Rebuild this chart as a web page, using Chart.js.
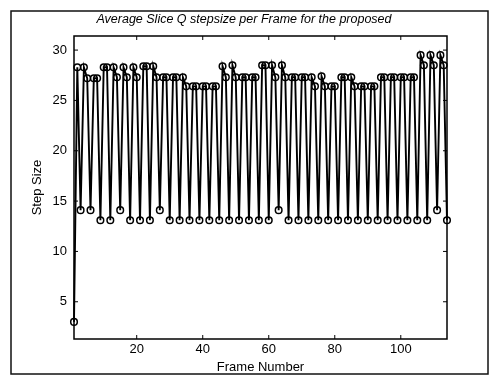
<!DOCTYPE html>
<html>
<head>
<meta charset="utf-8">
<script src="https://cdn.jsdelivr.net/npm/chart.js@4.4.1/dist/chart.umd.min.js"></script>
<style>
	body { margin: 0; background: #fff; }
	#graph { display: block; }
</style>
</head>
<body>
<canvas id="graph" width="491" height="381"></canvas>
<script>
const frames = [
	1, 2, 3, 4, 5, 6, 7, 8, 9, 10, 11, 12, 13, 14, 15, 16, 17, 18, 19, 20,
	21, 22, 23, 24, 25, 26, 27, 28, 29, 30, 31, 32, 33, 34, 35, 36, 37, 38, 39, 40,
	41, 42, 43, 44, 45, 46, 47, 48, 49, 50, 51, 52, 53, 54, 55, 56, 57, 58, 59, 60,
	61, 62, 63, 64, 65, 66, 67, 68, 69, 70, 71, 72, 73, 74, 75, 76, 77, 78, 79, 80,
	81, 82, 83, 84, 85, 86, 87, 88, 89, 90, 91, 92, 93, 94, 95, 96, 97, 98, 99, 100,
	101, 102, 103, 104, 105, 106, 107, 108, 109, 110, 111, 112, 113, 114,
];

const stepSize = [
	3, 28.3, 14.1, 28.3, 27.2, 14.1, 27.2, 27.2, 13.1, 28.3,
	28.3, 13.1, 28.3, 27.3, 14.1, 28.3, 27.3, 13.1, 28.3, 27.3,
	13.1, 28.4, 28.4, 13.1, 28.4, 27.3, 14.1, 27.3, 27.3, 13.1,
	27.3, 27.3, 13.1, 27.3, 26.4, 13.1, 26.4, 26.4, 13.1, 26.4,
	26.4, 13.1, 26.4, 26.4, 13.1, 28.4, 27.3, 13.1, 28.5, 27.3,
	13.1, 27.3, 27.3, 13.1, 27.3, 27.3, 13.1, 28.5, 28.5, 13.1,
	28.5, 27.3, 14.1, 28.5, 27.3, 13.1, 27.3, 27.3, 13.1, 27.3,
	27.3, 13.1, 27.3, 26.4, 13.1, 27.4, 26.4, 13.1, 26.4, 26.4,
	13.1, 27.3, 27.3, 13.1, 27.3, 26.4, 13.1, 26.4, 26.4, 13.1,
	26.4, 26.4, 13.1, 27.3, 27.3, 13.1, 27.3, 27.3, 13.1, 27.3,
	27.3, 13.1, 27.3, 27.3, 13.1, 29.5, 28.5, 13.1, 29.5, 28.5,
	14.1, 29.5, 28.5, 13.1,
];

const xTicks = [20, 40, 60, 80, 100];
const yTicks = [5, 10, 15, 20, 25, 30];
const title = 'Average Slice Q stepsize per Frame for the proposed';

const font = 'Liberation Sans, Arial, sans-serif';

// outer scanned frame + title, then the matlab style axes box with inward ticks
const boxPlugin = {
	id: 'boxPlugin',
	beforeDraw(chart) {
		const ctx = chart.ctx;
		ctx.save();
		ctx.fillStyle = '#fff';
		ctx.fillRect(0, 0, chart.width, chart.height);
		ctx.strokeStyle = '#111';
		ctx.lineWidth = 1.5;
		ctx.strokeRect(11, 11, 477, 363);
		ctx.fillStyle = '#000';
		ctx.font = 'italic 12.5px ' + font;
		ctx.textAlign = 'center';
		ctx.textBaseline = 'middle';
		ctx.fillText(title, 244, 20);
		ctx.restore();
	},
	afterDatasetsDraw(chart) {
		const { ctx, chartArea: a, scales } = chart;
		ctx.save();
		ctx.strokeStyle = '#000';
		ctx.lineWidth = 1.5;
		ctx.strokeRect(a.left, a.top, a.right - a.left, a.bottom - a.top);
		ctx.lineWidth = 1;
		ctx.beginPath();
		xTicks.forEach((v) => {
			const x = scales.x.getPixelForValue(v);
			ctx.moveTo(x, a.bottom);
			ctx.lineTo(x, a.bottom - 4);
			ctx.moveTo(x, a.top);
			ctx.lineTo(x, a.top + 4);
		});
		yTicks.forEach((v) => {
			const y = scales.y.getPixelForValue(v);
			ctx.moveTo(a.left, y);
			ctx.lineTo(a.left + 4, y);
			ctx.moveTo(a.right, y);
			ctx.lineTo(a.right - 4, y);
		});
		ctx.stroke();
		ctx.restore();
	},
};

const data = {
	labels: frames,
	datasets: [
		{
			data: stepSize,
			borderColor: '#000',
			borderWidth: 1.9,
			pointRadius: 3.3,
			pointBorderWidth: 1.5,
			pointBorderColor: '#000',
			pointBackgroundColor: 'rgba(0,0,0,0)',
			tension: 0,
			clip: false,
		},
	],
};

const config = {
	type: 'line',
	data: data,
	plugins: [boxPlugin],
	options: {
		responsive: false,
		animation: false,
		devicePixelRatio: 1,
		layout: { padding: { left: 0, right: 44, top: 36, bottom: 0 } },
		plugins: {
			legend: { display: false },
			tooltip: { enabled: false },
			title: { display: false },
		},
		scales: {
			x: {
				type: 'linear',
				min: 1,
				max: 114,
				afterBuildTicks: (s) => {
					s.ticks = xTicks.map((v) => ({ value: v }));
				},
				afterFit: (s) => {
					s.height = 42;
				},
				grid: { display: false, drawTicks: false },
				border: { display: false },
				ticks: {
					color: '#000',
					font: { family: font, size: 13 },
					padding: 3,
					maxRotation: 0,
				},
				title: {
					display: true,
					text: 'Frame Number',
					color: '#000',
					font: { family: font, size: 13 },
					padding: { top: 0, bottom: 6 },
				},
			},
			y: {
				min: 1.3,
				max: 31.4,
				afterBuildTicks: (s) => {
					s.ticks = yTicks.map((v) => ({ value: v }));
				},
				afterFit: (s) => {
					s.width = 74;
				},
				grid: { display: false, drawTicks: false },
				border: { display: false },
				ticks: {
					color: '#000',
					font: { family: font, size: 13 },
					padding: 7,
				},
				title: {
					display: true,
					text: 'Step Size',
					color: '#000',
					font: { family: font, size: 13 },
					padding: { top: 30, bottom: 0 },
				},
			},
		},
	},
};

const c = new Chart(document.getElementById('graph'), config);
</script>
</body>
</html>
